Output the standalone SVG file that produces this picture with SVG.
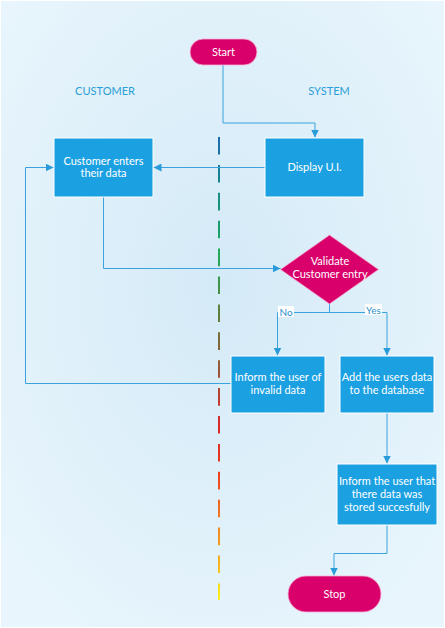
<svg xmlns="http://www.w3.org/2000/svg" width="445" height="628" viewBox="0 0 445 628">
<defs>
<radialGradient id="bg" cx="50%" cy="45%" r="65%">
<stop offset="0" stop-color="#d4eaf7"/>
<stop offset="1" stop-color="#e8f5fc"/>
</radialGradient>
<linearGradient id="lane" gradientUnits="userSpaceOnUse" x1="0" y1="137" x2="0" y2="600">
<stop offset="0" stop-color="#1b6bb0"/>
<stop offset="0.12" stop-color="#168c86"/>
<stop offset="0.25" stop-color="#1eac5a"/>
<stop offset="0.38" stop-color="#5f7e3c"/>
<stop offset="0.5" stop-color="#9a583a"/>
<stop offset="0.62" stop-color="#d82a2a"/>
<stop offset="0.72" stop-color="#ee3a22"/>
<stop offset="0.82" stop-color="#f07a22"/>
<stop offset="0.92" stop-color="#f4b420"/>
<stop offset="1" stop-color="#fbf51a"/>
</linearGradient>
<marker id="arr" viewBox="0 0 10 10" refX="10" refY="5" markerWidth="8" markerHeight="8" markerUnits="userSpaceOnUse" orient="auto">
<path d="M0,0 L10,5 L0,10 z" fill="#2a9bd8"/>
</marker>
<style>
.box{fill:#1ba1e2;stroke:#ffffff;stroke-width:1}
.term{fill:#d9006c;stroke:#f3b3d3;stroke-width:0.8}
.t{font-family:Lato,"Open Sans",sans-serif;font-size:11px;fill:#ffffff;text-anchor:middle}
.lane{font-family:Lato,"Open Sans",sans-serif;font-size:11px;fill:#2a9fd8;text-anchor:middle}
.lbl{font-family:Lato,"Open Sans",sans-serif;font-size:10px;fill:#2a8fc8;text-anchor:middle}
.c{fill:none;stroke:#3aa2dc;stroke-width:1;marker-end:url(#arr)}
.cn{fill:none;stroke:#3aa2dc;stroke-width:1}
</style>
</defs>
<rect x="0" y="0" width="445" height="628" fill="#ffffff"/>
<rect x="1" y="1" width="443" height="626" fill="url(#bg)"/>
<line x1="219" y1="137" x2="219" y2="600" stroke="url(#lane)" stroke-width="2" stroke-dasharray="17.6 10.3"/>
<text class="lane" x="105" y="95">CUSTOMER</text>
<text class="lane" x="329" y="95">SYSTEM</text>
<g id="connectors">
<path class="c" d="M223,65 V123 H315 V137.5"/>
<path class="c" d="M265,167.5 H153.5"/>
<path class="c" d="M103.5,197 V268.5 H280.5"/>
<path class="c" d="M329.5,304 V312.5 H277.5 V355.5"/>
<path class="c" d="M329.5,312.5 H387 V355.5"/>
<path class="c" d="M231,383.5 H25.5 V167.5 H53.5"/>
<path class="c" d="M387,413 V463.5"/>
<path class="c" d="M387,525 V553.5 H334 V575.5"/>
<rect x="278" y="306" width="16" height="11" fill="#ffffff"/>
<text class="lbl" x="286" y="315.5">No</text>
<rect x="365" y="304" width="17" height="11" fill="#ffffff"/>
<text class="lbl" x="373.5" y="313.5">Yes</text>
</g>
<g id="start">
<rect class="term" x="190" y="39" width="67" height="26" rx="13"/>
<text class="t" x="223.5" y="56">Start</text>
</g>
<g id="customer-enters">
<rect class="box" x="54" y="138" width="99" height="59"/>
<text class="t" x="103.5" y="165">Customer enters</text>
<text class="t" x="103.5" y="177">their data</text>
</g>
<g id="display-ui">
<rect class="box" x="265" y="138" width="99" height="59"/>
<text class="t" x="314.5" y="171">Display U.I.</text>
</g>
<g id="validate">
<polygon points="329.5,235 378.5,269.5 329.5,304 280.5,269.5" fill="#d9006c" stroke="#f3b3d3" stroke-width="0.8"/>
<text class="t" x="330" y="265">Validate</text>
<text class="t" x="330" y="278">Customer entry</text>
</g>
<g id="inform-invalid">
<rect class="box" x="231" y="356" width="94" height="57"/>
<text class="t" x="278" y="381">Inform the user of</text>
<text class="t" x="278" y="394">invalid data</text>
</g>
<g id="add-data">
<rect class="box" x="340" y="356" width="94" height="57"/>
<text class="t" x="387" y="381">Add the users data</text>
<text class="t" x="387" y="394">to the database</text>
</g>
<g id="inform-stored">
<rect class="box" x="337" y="464" width="100" height="61"/>
<text class="t" x="387" y="485">Inform the user that</text>
<text class="t" x="387" y="498">there data was</text>
<text class="t" x="387" y="511">stored succesfully</text>
</g>
<g id="stop">
<rect class="term" x="288" y="576" width="93" height="36" rx="18"/>
<text class="t" x="334.5" y="598">Stop</text>
</g>
</svg>
